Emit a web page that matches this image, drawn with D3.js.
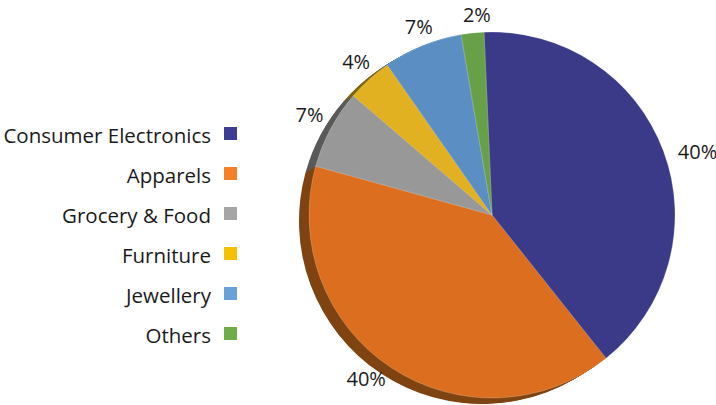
<!DOCTYPE html>
<html>
<head>
<meta charset="utf-8">
<script src="https://cdn.jsdelivr.net/npm/d3@7"></script>
<style>
  body { margin: 0; background: #fff; }
  text { font-family: "Open Sans", Lato, sans-serif; fill: #1a1a1a; }
</style>
</head>
<body>
<div id="chart"></div>
<script>
// data
var categories = ["Consumer Electronics", "Apparels", "Grocery & Food", "Furniture", "Jewellery", "Others"];
var shares = [40, 40, 7, 4, 7, 2];
var shareLabels = ["40%", "40%", "7%", "4%", "7%", "2%"];

// styles
var sliceColors = ["#3a3a88", "#dc6e1f", "#989898", "#e1b121", "#5b8fc4", "#67a046"];
var sideColors = ["#24245a", "#7f4412", "#5a5a5a", "#7f6414", "#2f5c86", "#3d6429"];
var legendColors = ["#3d3d94", "#f58025", "#a5a5a5", "#f5c000", "#69a1d8", "#70ad47"];

var width = 716, height = 405;
var cx = 492, cy = 215, r = 183;
var tilt = -2.5 * Math.PI / 180;

var svg = d3.select('#chart')
    .append('svg')
    .attr('width', width)
    .attr('height', height);

var pie = d3.pie()
    .sort(null)
    .startAngle(tilt)
    .endAngle(2 * Math.PI + tilt);

var arcs = pie(shares);
var arc = d3.arc().innerRadius(0).outerRadius(r);

// extruded side (shadow) of the pie
var steps = 10;
for (var k = steps; k >= 1; k--) {
    svg.append('g')
        .attr('transform', 'translate(' + (cx - 10 * k / steps) + ',' + (cy + 6 * k / steps) + ')')
        .selectAll('path')
        .data(arcs)
        .enter()
        .append('path')
        .attr('d', arc)
        .attr('fill', function (d, i) { return sideColors[i]; });
}

var g = svg.append('g').attr('transform', 'translate(' + cx + ',' + cy + ')');

g.selectAll('path.slice')
    .data(arcs)
    .enter()
    .append('path')
    .attr('class', 'slice')
    .attr('d', arc)
    .attr('fill', function (d, i) { return sliceColors[i]; })
    .attr('stroke', '#ffffff')
    .attr('stroke-opacity', 0.35)
    .attr('stroke-width', 0.6);

// percentage labels, placed just outside the rim
var gap = 14, halfH = 4;
g.selectAll('text.pct')
    .data(arcs)
    .enter()
    .append('text')
    .attr('class', 'pct')
    .attr('text-anchor', 'middle')
    .attr('dominant-baseline', 'central')
    .style('font-size', '20px')
    .text(function (d, i) { return shareLabels[i]; })
    .each(function (d) {
        var a = (d.startAngle + d.endAngle) / 2 + 2 * Math.PI / 180;
        var ux = Math.sin(a), uy = -Math.cos(a);
        var halfW = this.getComputedTextLength() / 2;
        d3.select(this)
            .attr('x', ux * (r + gap + halfW))
            .attr('y', uy * (r + gap + halfH));
    });

// legend
var legendY = d3.scalePoint()
    .domain(categories)
    .range([134, 334]);

var legend = svg.append('g');
var items = legend.selectAll('g')
    .data(categories)
    .enter()
    .append('g')
    .attr('transform', function (d) { return 'translate(0,' + legendY(d) + ')'; });

items.append('rect')
    .attr('x', 224)
    .attr('y', -7)
    .attr('width', 13)
    .attr('height', 13)
    .attr('fill', function (d, i) { return legendColors[i]; });

items.append('text')
    .attr('x', 211)
    .attr('y', 1)
    .attr('text-anchor', 'end')
    .attr('dominant-baseline', 'central')
    .style('font-size', '20.5px')
    .text(function (d) { return d; });
</script>
</body>
</html>
